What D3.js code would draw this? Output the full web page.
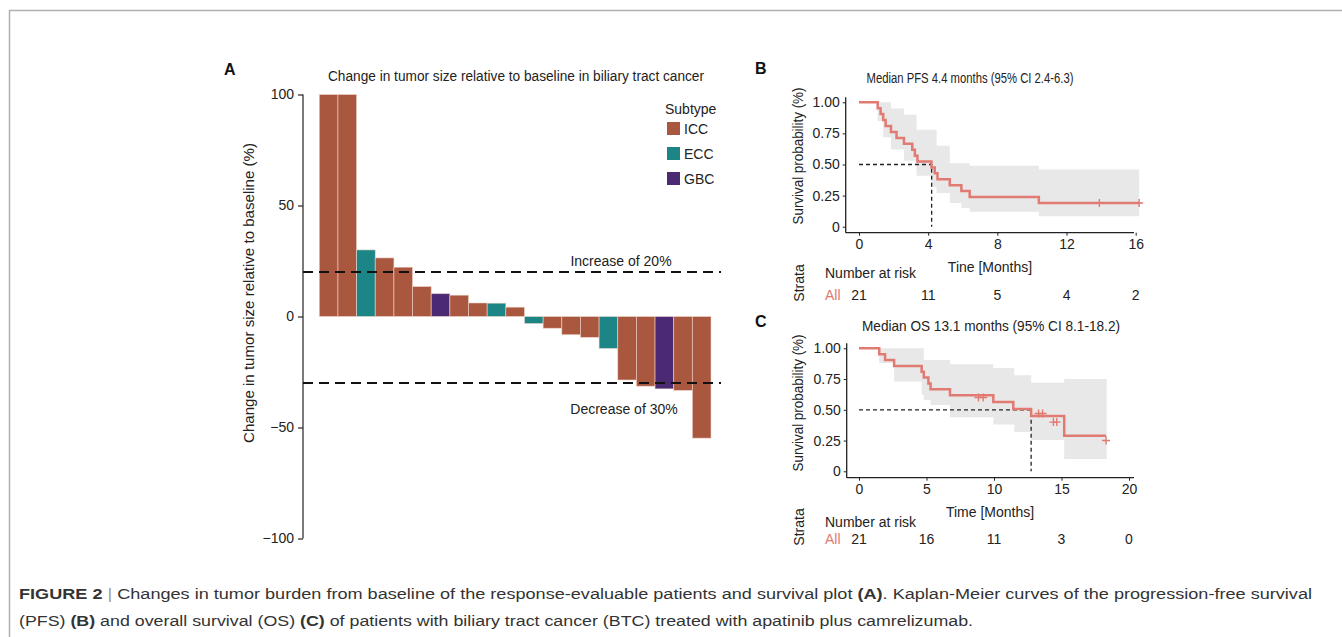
<!DOCTYPE html>
<html><head><meta charset="utf-8">
<script src="https://cdn.jsdelivr.net/npm/d3@7"></script>
<style>html,body{margin:0;padding:0;background:#fff;}svg{display:block;font-family:"Liberation Sans",Arial,sans-serif;}</style>
</head><body>
<svg id="fig" width="1342" height="637"></svg>
<script>
// ---------- Panel A data ----------
const barValues = [100,100,30,26.4,22.2,13.5,10.3,9.6,6.1,6.0,4.2,-3.2,-5.3,-8.2,-9.4,-14.4,-28.6,-31.4,-32.6,-33.3,-54.8];
const barSubtypes = ["ICC","ICC","ECC","ICC","ICC","ICC","GBC","ICC","ICC","ECC","ICC","ECC","ICC","ICC","ICC","ECC","ICC","ICC","GBC","ICC","ICC"];
const subtypes = ["ICC","ECC","GBC"];
const subtypeColors = ["#a9573f","#1c8585","#4b2a73"];
const refLines = [20,-30];
const refLabels = ["Increase of 20%","Decrease of 30%"];
const yTicksA = [100,50,0,-50,-100];

// ---------- Panel B (PFS) data ----------
const pfsTimes = [0,1.08,1.25,1.40,1.54,1.85,2.17,2.6,3.08,3.23,3.38,4.19,4.38,4.54,5.25,5.92,6.4,10.4,16.2];
const pfsSurv  = [1,0.952,0.905,0.857,0.810,0.762,0.714,0.667,0.619,0.571,0.524,0.476,0.429,0.381,0.333,0.286,0.238,0.190,0.190];
const pfsCiTimes = [1.08,1.4,1.85,2.6,3.33,4.19,4.49,5.25,5.92,6.4,10.4,16.2];
const pfsCiUpper = [1.0,1.0,0.95,0.90,0.78,0.78,0.65,0.51,0.51,0.49,0.46,0.46];
const pfsCiLower = [0.85,0.72,0.62,0.53,0.41,0.32,0.27,0.19,0.15,0.12,0.085,0.085];
const pfsCensorT = [13.9,16.2];
const pfsCensorS = [0.190,0.190];
const pfsMedian = 4.2;
const pfsXTicks = [0,4,8,12,16];
const pfsRisk = [21,11,5,4,2];

// ---------- Panel C (OS) data ----------
const osTimes = [0,1.5,1.93,2.6,4.64,4.8,5.14,5.3,6.74,9.95,11.43,12.75,15.2,18.3];
const osSurv  = [1,0.952,0.905,0.857,0.810,0.762,0.714,0.667,0.619,0.563,0.506,0.45,0.29,0.29];
const osCiTimes = [1.5,2.6,4.64,4.8,5.3,6.74,9.95,11.5,12.75,15.2,18.35];
const osCiUpper = [1.0,1.0,1.0,0.905,0.905,0.87,0.84,0.78,0.72,0.75,0.75];
const osCiLower = [0.88,0.73,0.62,0.58,0.54,0.44,0.38,0.32,0.255,0.10,0.10];
const osCensorT = [8.85,9.2,13.3,13.6,14.4,14.65,18.3];
const osCensorS = [0.60,0.60,0.47,0.47,0.40,0.40,0.25];
const osMedian = 12.75;
const osXTicks = [0,5,10,15,20];
const osRisk = [21,16,11,3,0];

const survTicks = [0,0.25,0.5,0.75,1];
const survTickLabels = ["0","0.25","0.50","0.75","1.00"];

const svg = d3.select("#fig");
svg.append("rect").attr("width",1342).attr("height",637).attr("fill","#fff");
// frame
svg.append("line").attr("x1",9).attr("x2",1342).attr("y1",10.5).attr("y2",10.5).attr("stroke","#b0b0b0").attr("stroke-width",1.5);
svg.append("line").attr("x1",9.5).attr("x2",9.5).attr("y1",10).attr("y2",637).attr("stroke","#b0b0b0").attr("stroke-width",1.5);

const txt = "#222";

// ================= Panel A =================
const yA = d3.scaleLinear().domain([-100,100]).range([538.5,94.5]);
const xA = d3.scaleBand().domain(d3.range(barValues.length)).range([319.3,711]).padding(0);
const colA = d3.scaleOrdinal().domain(subtypes).range(subtypeColors);

const gA = svg.append("g");
gA.selectAll("rect.bar").data(barValues).join("rect")
  .attr("x",(d,i)=>xA(i)).attr("width",xA.bandwidth())
  .attr("y",d=>yA(Math.max(0,d))).attr("height",d=>Math.abs(yA(d)-yA(0)))
  .attr("fill",(d,i)=>colA(barSubtypes[i]))
  .attr("stroke","#f3d9d0").attr("stroke-opacity",0.7).attr("stroke-width",0.8);

const axA = gA.append("g").attr("transform","translate(303,0)")
  .call(d3.axisLeft(yA).tickValues(yTicksA).tickSize(5).tickPadding(4).tickFormat(d=>d<0?"\u2212"+Math.abs(d):d));
axA.select(".domain").attr("stroke","#222").attr("stroke-width",1.2).attr("d","M0,94.5V538.5");
axA.selectAll(".tick line").attr("stroke","#222").attr("stroke-width",1.2);
axA.selectAll(".tick text").attr("font-size",14).attr("fill",txt).attr("font-family","Liberation Sans, Arial");

gA.selectAll("line.ref").data(refLines).join("line")
  .attr("x1",303).attr("x2",721).attr("y1",d=>yA(d)).attr("y2",d=>yA(d))
  .attr("stroke","#111").attr("stroke-width",2).attr("stroke-dasharray","10,6");
gA.append("text").attr("x",621).attr("y",yA(refLines[0])-6).attr("text-anchor","middle").attr("font-size",14).attr("fill",txt).text(refLabels[0]);
gA.append("text").attr("x",624).attr("y",yA(refLines[1])+31).attr("text-anchor","middle").attr("font-size",14).attr("fill",txt).text(refLabels[1]);

gA.append("text").attr("x",516).attr("y",81).attr("text-anchor","middle").attr("font-size",14).attr("fill",txt)
  .attr("textLength",376).attr("lengthAdjust","spacingAndGlyphs")
  .text("Change in tumor size relative to baseline in biliary tract cancer");
gA.append("text").attr("x",224).attr("y",75).attr("font-size",16).attr("font-weight","bold").attr("fill","#111").text("A");
gA.append("text").attr("transform","translate(254,293) rotate(-90)").attr("text-anchor","middle").attr("font-size",14).attr("fill",txt)
  .attr("textLength",300).attr("lengthAdjust","spacingAndGlyphs")
  .text("Change in tumor size relative to baseline (%)");

// legend
gA.append("text").attr("x",665).attr("y",114).attr("font-size",14).attr("fill",txt).text("Subtype");
const leg = gA.selectAll("g.leg").data(subtypes).join("g").attr("transform",(d,i)=>`translate(667,${122+i*25})`);
leg.append("rect").attr("width",13).attr("height",13).attr("fill",d=>colA(d));
leg.append("text").attr("x",17).attr("y",12).attr("font-size",14).attr("fill",txt).text(d=>d);

// ================= KM panels =================
function kmPanel(o){
  const g = svg.append("g");
  const x = d3.scaleLinear().domain(o.xDomain).range(o.xRange);
  const y = d3.scaleLinear().domain([0,1]).range(o.yRange);
  // CI band
  const ci = o.ciTimes.map((t,i)=>({t,u:o.ciUpper[i],l:o.ciLower[i]}));
  g.append("path").datum(ci)
    .attr("d",d3.area().curve(d3.curveStepAfter).x(d=>x(d.t)).y0(d=>y(d.l)).y1(d=>y(d.u)))
    .attr("fill","#e8e8e8");
  // median lines
  g.append("path").attr("d",`M${x(0)},${y(0.5)}H${x(o.median)}V${y(0)}`)
    .attr("fill","none").attr("stroke","#222").attr("stroke-width",1.3).attr("stroke-dasharray","4,3");
  // curve
  const pts = o.times.map((t,i)=>({t,s:o.surv[i]}));
  g.append("path").datum(pts)
    .attr("d",d3.line().curve(d3.curveStepAfter).x(d=>x(d.t)).y(d=>y(d.s)))
    .attr("fill","none").attr("stroke","#e07a72").attr("stroke-width",2.5);
  // censors
  const cs = o.censorT.map((t,i)=>({t,s:o.censorS[i]}));
  g.selectAll("path.cens").data(cs).join("path")
    .attr("d",d=>`M${x(d.t)-4},${y(d.s)}h8M${x(d.t)},${y(d.s)-4}v8`)
    .attr("stroke","#e07a72").attr("stroke-width",1.4);
  // axes
  const ax = g.append("g").attr("transform",`translate(${o.axisX},0)`)
    .call(d3.axisLeft(y).tickValues(survTicks).tickSize(3).tickPadding(3).tickFormat((d,i)=>survTickLabels[i]));
  ax.select(".domain").attr("d",`M0,${o.yRange[1]-5}V${o.axisY}`).attr("stroke","#222").attr("stroke-width",1.3);
  ax.selectAll(".tick line").attr("stroke","#222");
  ax.selectAll(".tick text").attr("font-size",14).attr("fill",txt).attr("font-family","Liberation Sans, Arial");
  const bx = g.append("g").attr("transform",`translate(0,${o.axisY})`)
    .call(d3.axisBottom(x).tickValues(o.xTicks).tickSize(3).tickPadding(3));
  bx.select(".domain").attr("d",`M${o.axisX},0H1134`).attr("stroke","#222").attr("stroke-width",1.3);
  bx.selectAll(".tick line").attr("stroke","#222");
  bx.selectAll(".tick text").attr("font-size",14).attr("fill",txt).attr("font-family","Liberation Sans, Arial");
  // title & labels
  g.append("text").attr("x",o.titleX).attr("y",o.titleY).attr("text-anchor","middle").attr("font-size",14).attr("fill",txt)
    .attr("textLength",o.titleW).attr("lengthAdjust","spacingAndGlyphs").text(o.title);
  g.append("text").attr("x",755).attr("y",o.letterY).attr("font-size",16).attr("font-weight","bold").attr("fill","#111").text(o.letter);
  g.append("text").attr("transform",`translate(803,${o.ylabY}) rotate(-90)`).attr("text-anchor","middle").attr("font-size",14).attr("fill",txt)
    .attr("textLength",137).attr("lengthAdjust","spacingAndGlyphs").text("Survival probability (%)");
  g.append("text").attr("x",990).attr("y",o.xlabY).attr("text-anchor","middle").attr("font-size",14).attr("fill",txt).text(o.xlab);
  g.append("text").attr("transform",`translate(804,${o.strataY}) rotate(-90)`).attr("text-anchor","middle").attr("font-size",14).attr("fill",txt).text("Strata");
  g.append("text").attr("x",825).attr("y",o.nrY).attr("font-size",14).attr("fill",txt).text("Number at risk");
  g.append("text").attr("x",825).attr("y",o.allY).attr("font-size",14).attr("fill","#e07a72").text("All");
  g.selectAll("text.risk").data(o.risk).join("text").attr("x",(d,i)=>x(o.xTicks[i])).attr("y",o.allY)
    .attr("text-anchor","middle").attr("font-size",14).attr("fill",txt).text(d=>d);
}

kmPanel({xDomain:[0,16],xRange:[859,1135.7],yRange:[226.7,102.3],axisX:845.7,axisY:232.7,
  times:pfsTimes,surv:pfsSurv,ciTimes:pfsCiTimes,ciUpper:pfsCiUpper,ciLower:pfsCiLower,
  censorT:pfsCensorT,censorS:pfsCensorS,median:pfsMedian,xTicks:pfsXTicks,risk:pfsRisk,
  title:"Median PFS 4.4 months (95% CI 2.4-6.3)",titleX:970,titleY:83,titleW:207,letter:"B",letterY:74,
  ylabY:156,xlab:"Tine [Months]",xlabY:272,strataY:283,nrY:278,allY:300});

kmPanel({xDomain:[0,20],xRange:[859,1129],yRange:[471.3,348.3],axisX:846.7,axisY:477.7,
  times:osTimes,surv:osSurv,ciTimes:osCiTimes,ciUpper:osCiUpper,ciLower:osCiLower,
  censorT:osCensorT,censorS:osCensorS,median:osMedian,xTicks:osXTicks,risk:osRisk,
  title:"Median OS 13.1 months (95% CI 8.1-18.2)",titleX:991,titleY:331,titleW:258,letter:"C",letterY:327,
  ylabY:403,xlab:"Time [Months]",xlabY:517,strataY:527,nrY:527,allY:544});

// ================= Caption =================
const cap = svg.append("g").attr("font-size",15.5).attr("fill","#333");
const l1 = cap.append("text").attr("x",19).attr("y",599).attr("textLength",1293).attr("lengthAdjust","spacingAndGlyphs");
l1.append("tspan").attr("font-weight","bold").text("FIGURE 2");
l1.append("tspan").attr("fill","#999").text(" | ");
l1.append("tspan").text("Changes in tumor burden from baseline of the response-evaluable patients and survival plot ");
l1.append("tspan").attr("font-weight","bold").text("(A)");
l1.append("tspan").text(". Kaplan-Meier curves of the progression-free survival");
const l2 = cap.append("text").attr("x",19).attr("y",626).attr("textLength",954).attr("lengthAdjust","spacingAndGlyphs");
l2.append("tspan").text("(PFS) ");
l2.append("tspan").attr("font-weight","bold").text("(B)");
l2.append("tspan").text(" and overall survival (OS) ");
l2.append("tspan").attr("font-weight","bold").text("(C)");
l2.append("tspan").text(" of patients with biliary tract cancer (BTC) treated with apatinib plus camrelizumab.");
</script>
</body></html>
